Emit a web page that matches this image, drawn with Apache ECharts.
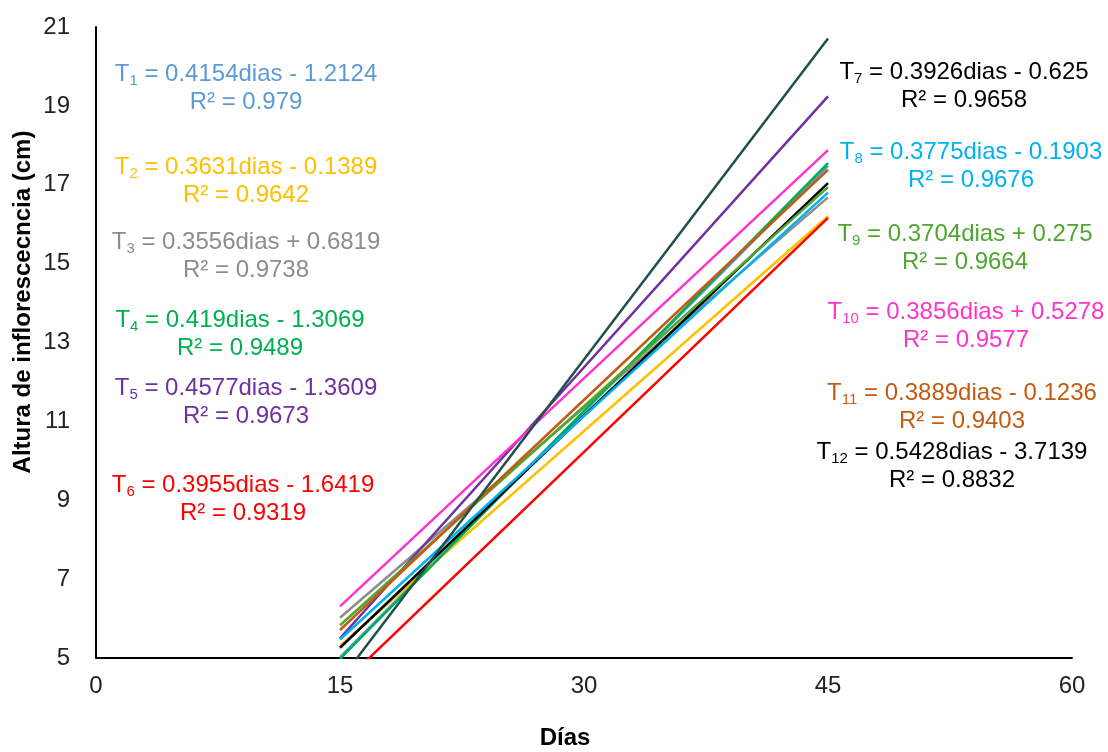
<!DOCTYPE html>
<html>
<head>
<meta charset="utf-8">
<script src="https://cdn.jsdelivr.net/npm/echarts@6/dist/echarts.min.js"></script>
<style>
  html, body { margin: 0; padding: 0; background: #fff; }
  #chart { width: 1108px; height: 752px; }
</style>
</head>
<body>
<div id="chart"></div>
<script>
"use strict";

/* ---------- Data ---------- */
// Treatments T1..T12: trendline endpoints at day 15 and day 45
const treatments = ["1", "2", "3", "4", "5", "6", "7", "8", "9", "10", "11", "12"];
const days = [15, 45];
const startValues = [5.02, 5.31, 6.02, 4.98, 5.50, 4.29, 5.26, 5.47, 5.83, 6.31, 5.71, 4.43];
const endValues = [17.48, 16.20, 16.68, 17.55, 19.24, 16.16, 17.04, 16.80, 16.94, 17.88, 17.38, 20.71];

// Equation texts
const slopes = ["0.4154", "0.3631", "0.3556", "0.419", "0.4577", "0.3955",
    "0.3926", "0.3775", "0.3704", "0.3856", "0.3889", "0.5428"];
const intercepts = ["- 1.2124", "- 0.1389", "+ 0.6819", "- 1.3069", "- 1.3609", "- 1.6419",
    "- 0.625", "- 0.1903", "+ 0.275", "+ 0.5278", "- 0.1236", "- 3.7139"];
const r2 = ["0.979", "0.9642", "0.9738", "0.9489", "0.9673", "0.9319",
    "0.9658", "0.9676", "0.9664", "0.9577", "0.9403", "0.8832"];

// Axis ticks
const xMin = 0, xMax = 60, xStep = 15;
const yMin = 5, yMax = 21, yStep = 2;

/* ---------- Styles ---------- */
const lineColors = ["#5B9BD5", "#FFC000", "#8C8C8C", "#00B050", "#7030A0", "#FF0000",
    "#000000", "#00B0F0", "#4EA72E", "#FF33CC", "#C55A11", "#214F4C"];
const textColors = ["#5B9BD5", "#FFC000", "#8C8C8C", "#00B050", "#7030A0", "#FF0000",
    "#000000", "#00B0F0", "#4EA72E", "#FF33CC", "#C55A11", "#000000"];
// centre of the first text line of each equation block (px)
const labelPos = [
    [246, 74], [246, 167], [246, 242], [240, 320], [246, 388], [243, 485],
    [964, 72], [971, 152], [965, 234], [966, 312], [962, 393], [952, 452]
];

const FONT = '"Liberation Sans", Arial, sans-serif';
const LH = 28;

/* ---------- Chart ---------- */
const chart = echarts.init(document.getElementById("chart"));

const series = treatments.map((t, i) => ({
    name: "T" + t,
    type: "line",
    data: days.map((d, k) => [d, k === 0 ? startValues[i] : endValues[i]]),
    symbol: "none",
    clip: true,
    lineStyle: { color: lineColors[i], width: 2.5 },
    silent: true
}));

const labels = treatments.map((t, i) => ({
    type: "text",
    x: labelPos[i][0],
    y: labelPos[i][1] - LH / 2,
    style: {
        text: `{t|T}{s|${t}}{t| = ${slopes[i]}dias ${intercepts[i]}}\n{t|R² = ${r2[i]}}`,
        align: "center",
        verticalAlign: "top",
        fill: textColors[i],
        font: `24px ${FONT}`,
        rich: {
            t: { fontSize: 24, lineHeight: LH, fontFamily: FONT, fill: textColors[i] },
            s: { fontSize: 15, lineHeight: LH, verticalAlign: "bottom", padding: [10, 0, 0, 0], fontFamily: FONT, fill: textColors[i] }
        }
    }
}));

chart.setOption({
    textStyle: { fontFamily: FONT },
    animation: false,
    grid: { left: 96, right: 36, top: 27, bottom: 94, containLabel: false },
    xAxis: {
        type: "value", min: xMin, max: xMax, interval: xStep,
        axisLine: { show: true, lineStyle: { color: "#000", width: 2 } },
        axisTick: { show: false },
        splitLine: { show: false },
        axisLabel: { color: "#222", fontSize: 24, margin: 16 }
    },
    yAxis: {
        type: "value", min: yMin, max: yMax, interval: yStep,
        axisLine: { show: true, lineStyle: { color: "#000", width: 2 } },
        axisTick: { show: false },
        splitLine: { show: false },
        axisLabel: { color: "#222", fontSize: 24, margin: 26 }
    },
    series: series,
    graphic: [
        {
            type: "text", x: 23, y: 302, rotation: Math.PI / 2,
            style: {
                text: "Altura de inflorescecncia (cm)", align: "center", verticalAlign: "middle",
                font: `bold 24px ${FONT}`, fill: "#000"
            }
        },
        {
            type: "text", x: 565, y: 738,
            style: {
                text: "Días", align: "center", verticalAlign: "middle",
                font: `bold 24px ${FONT}`, fill: "#000"
            }
        }
    ].concat(labels)
});
</script>
</body>
</html>
